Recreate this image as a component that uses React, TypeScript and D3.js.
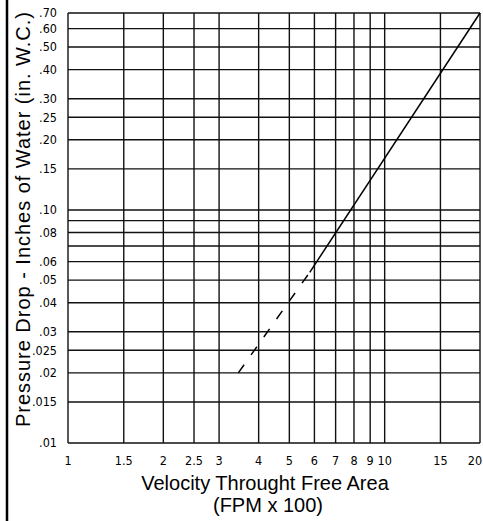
import React from "react";
import * as d3 from "d3";

const xGrid = [1, 1.5, 2, 2.5, 3, 4, 5, 6, 7, 8, 9, 10, 15, 20];
const xTickLabels = ["1", "1.5", "2", "2.5", "3", "4", "5", "6", "7", "8", "9", "10", "15", "20"];
const yGrid = [0.7, 0.6, 0.5, 0.4, 0.3, 0.25, 0.2, 0.15, 0.1, 0.09, 0.08, 0.07, 0.06, 0.05, 0.04, 0.03, 0.025, 0.02, 0.015, 0.01];
const yTickValues = [0.7, 0.6, 0.5, 0.4, 0.3, 0.25, 0.2, 0.15, 0.1, 0.08, 0.06, 0.05, 0.04, 0.03, 0.025, 0.02, 0.015, 0.01];
const yTickLabels = [".70", ".60", ".50", ".40", ".30", ".25", ".20", ".15", ".10", ".08", ".06", ".05", ".04", ".03", ".025", ".02", ".015", ".01"];

// curve: [velocity (FPM x 100), pressure drop (in. W.C.)]
const dashedSeries: [number, number][] = [[3.45, 0.02], [5.8, 0.054]];
const solidSeries: [number, number][] = [[5.8, 0.054], [20, 0.7]];

const W = 483;
const H = 521;
const M = { left: 68, right: 3, top: 13, bottom: 78 };

export default function App() {
  const x = d3.scaleLog().domain([1, 20]).range([M.left, W - M.right]);
  const y = d3.scaleLog().domain([0.01, 0.7]).range([H - M.bottom, M.top]);
  const line = d3
    .line<[number, number]>()
    .x((d) => x(d[0]))
    .y((d) => y(d[1]));
  const tickFont = "'Liberation Sans Narrow', 'DejaVu Sans Condensed', sans-serif";
  const titleFont = "'Liberation Sans', Arial, sans-serif";
  const x0 = x(1), x1 = x(20), y0 = y(0.01), y1 = y(0.7);
  return (
    <div style={{ position: "absolute", left: 0, top: 0 }}>
      <svg width={W} height={H} style={{ display: "block", background: "#fff" }}>
        <line x1={7} x2={7} y1={0} y2={H} stroke="#000" strokeWidth={2.5} />
        <g stroke="#111" strokeWidth={1.4}>
          {yGrid.map((v) => (
            <line key={"h" + v} x1={x0} x2={x1} y1={y(v)} y2={y(v)} />
          ))}
          {xGrid.map((v) => (
            <line key={"v" + v} x1={x(v)} x2={x(v)} y1={y1} y2={y0} />
          ))}
        </g>
        <path d={line(dashedSeries) || ""} fill="none" stroke="#000" strokeWidth={1.5} strokeDasharray="10,12" />
        <path d={line(solidSeries) || ""} fill="none" stroke="#000" strokeWidth={1.5} />
        <g fontFamily={tickFont} fontSize={12.5} fill="#000">
          {yTickValues.map((v, i) => (
            <text key={"yl" + v} x={57} y={y(v)} dy="0.35em" textAnchor="end">
              {yTickLabels[i]}
            </text>
          ))}
          {xGrid.map((v, i) => (
            <text key={"xl" + v} x={Math.min(x(v), W - 8)} y={465} textAnchor="middle">
              {xTickLabels[i]}
            </text>
          ))}
        </g>
        <g fontFamily={titleFont} fontSize={20} fill="#000">
          <text x={265} y={490} textAnchor="middle">
            Velocity Throught Free Area
          </text>
          <text x={268} y={512} textAnchor="middle">
            (FPM x 100)
          </text>
          <text
            transform={`translate(30,${(11 + 428) / 2}) rotate(-90)`}
            textAnchor="middle"
            textLength={415}
            lengthAdjust="spacing"
          >
            Pressure Drop - Inches of Water (in. W.C.)
          </text>
        </g>
      </svg>
    </div>
  );
}
